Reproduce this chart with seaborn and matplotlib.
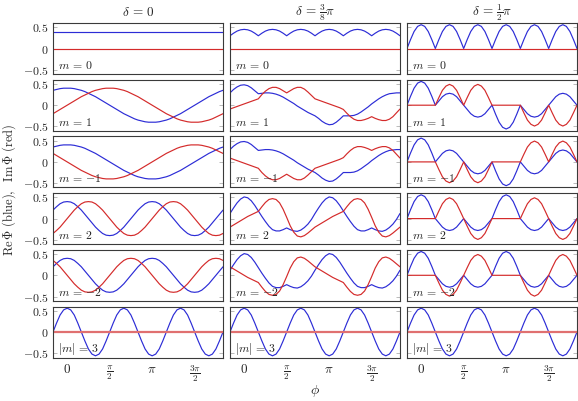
import numpy as np
import matplotlib
matplotlib.use("Agg")
import matplotlib.pyplot as plt
import seaborn as sns

sns.set_style("white")
plt.rcParams['font.family'] = ['DejaVu Serif']
plt.rcParams['mathtext.fontset'] = 'cm'

# ---------------- data ----------------
phi_deg = [-30, -22.5, -15, -7.5, 0, 7.5, 15, 22.5, 30, 37.5, 45, 52.5, 60, 67.5, 75, 82.5,
           90, 97.5, 105, 112.5, 120, 127.5, 135, 142.5, 150, 157.5, 165, 172.5, 180, 187.5,
           195, 202.5, 210, 217.5, 225, 232.5, 240, 247.5, 255, 262.5, 270, 277.5, 285, 292.5,
           300, 307.5, 315, 322.5, 330]
phi_edges = [-30, 330]

col_titles = [r"$\delta\,=\,0$", r"$\delta\,=\,\frac{3}{8}\pi$", r"$\delta\,=\,\frac{1}{2}\pi$"]
row_labels = [r"$m\,=\,0$", r"$m\,=\,1$", r"$m\,=\,{-1}$", r"$m\,=\,2$", r"$m\,=\,{-2}$", r"$|m|\,=\,3$"]
y_ticks = [-0.5, 0, 0.5]
y_tick_labels = [r"$-0.5$", r"$0$", r"$0.5$"]
x_ticks_deg = [0, 90, 180, 270]
x_tick_labels = [r"$0$", r"$\frac{\pi}{2}$", r"$\pi$", r"$\frac{3\pi}{2}$"]

# delta = 0
d0_m0_re = [0.40, 0.40]
zero_line = [0.0, 0.0]
d0_m1_re = [0.35, 0.37, 0.39, 0.40, 0.40, 0.40, 0.39, 0.37, 0.35, 0.32, 0.28, 0.24, 0.20, 0.15, 0.10, 0.05,
            0.00, -0.05, -0.10, -0.15, -0.20, -0.24, -0.28, -0.32, -0.35, -0.37, -0.39, -0.40, -0.40, -0.40,
            -0.39, -0.37, -0.35, -0.32, -0.28, -0.24, -0.20, -0.15, -0.10, -0.05, 0.00, 0.05, 0.10, 0.15,
            0.20, 0.24, 0.28, 0.32, 0.35]
d0_m1_im = [-0.20, -0.15, -0.10, -0.05, 0.00, 0.05, 0.10, 0.15, 0.20, 0.24, 0.28, 0.32, 0.35, 0.37, 0.39, 0.40,
            0.40, 0.40, 0.39, 0.37, 0.35, 0.32, 0.28, 0.24, 0.20, 0.15, 0.10, 0.05, 0.00, -0.05, -0.10, -0.15,
            -0.20, -0.24, -0.28, -0.32, -0.35, -0.37, -0.39, -0.40, -0.40, -0.40, -0.39, -0.37, -0.35, -0.32,
            -0.28, -0.24, -0.20]
d0_mm1_im = [0.20, 0.15, 0.10, 0.05, 0.00, -0.05, -0.10, -0.15, -0.20, -0.24, -0.28, -0.32, -0.35, -0.37, -0.39,
             -0.40, -0.40, -0.40, -0.39, -0.37, -0.35, -0.32, -0.28, -0.24, -0.20, -0.15, -0.10, -0.05, 0.00, 0.05,
             0.10, 0.15, 0.20, 0.24, 0.28, 0.32, 0.35, 0.37, 0.39, 0.40, 0.40, 0.40, 0.39, 0.37, 0.35, 0.32, 0.28,
             0.24, 0.20]
d0_m2_re = [0.20, 0.28, 0.35, 0.39, 0.40, 0.39, 0.35, 0.28, 0.20, 0.10, 0.00, -0.10, -0.20, -0.28, -0.35, -0.39,
            -0.40, -0.39, -0.35, -0.28, -0.20, -0.10, 0.00, 0.10, 0.20, 0.28, 0.35, 0.39, 0.40, 0.39, 0.35, 0.28,
            0.20, 0.10, 0.00, -0.10, -0.20, -0.28, -0.35, -0.39, -0.40, -0.39, -0.35, -0.28, -0.20, -0.10, 0.00,
            0.10, 0.20]
d0_m2_im = [-0.35, -0.28, -0.20, -0.10, 0.00, 0.10, 0.20, 0.28, 0.35, 0.39, 0.40, 0.39, 0.35, 0.28, 0.20, 0.10,
            0.00, -0.10, -0.20, -0.28, -0.35, -0.39, -0.40, -0.39, -0.35, -0.28, -0.20, -0.10, 0.00, 0.10, 0.20,
            0.28, 0.35, 0.39, 0.40, 0.39, 0.35, 0.28, 0.20, 0.10, 0.00, -0.10, -0.20, -0.28, -0.35, -0.39, -0.40,
            -0.39, -0.35]
d0_mm2_im = [0.35, 0.28, 0.20, 0.10, 0.00, -0.10, -0.20, -0.28, -0.35, -0.39, -0.40, -0.39, -0.35, -0.28, -0.20,
             -0.10, 0.00, 0.10, 0.20, 0.28, 0.35, 0.39, 0.40, 0.39, 0.35, 0.28, 0.20, 0.10, 0.00, -0.10, -0.20,
             -0.28, -0.35, -0.39, -0.40, -0.39, -0.35, -0.28, -0.20, -0.10, 0.00, 0.10, 0.20, 0.28, 0.35, 0.39,
             0.40, 0.39, 0.35]
m3_re = [0.00, 0.21, 0.40, 0.52, 0.56, 0.52, 0.40, 0.21, 0.00, -0.21, -0.40, -0.52, -0.56, -0.52, -0.40, -0.21,
         0.00, 0.21, 0.40, 0.52, 0.56, 0.52, 0.40, 0.21, 0.00, -0.21, -0.40, -0.52, -0.56, -0.52, -0.40, -0.21,
         0.00, 0.21, 0.40, 0.52, 0.56, 0.52, 0.40, 0.21, 0.00, -0.21, -0.40, -0.52, -0.56, -0.52, -0.40, -0.21,
         0.00]

# delta = 3/8 pi
d38_m0_re = [0.30, 0.36, 0.41, 0.44, 0.45, 0.44, 0.41, 0.36, 0.30, 0.36, 0.41, 0.44, 0.45, 0.44, 0.41, 0.36,
             0.30, 0.36, 0.41, 0.44, 0.45, 0.44, 0.41, 0.36, 0.30, 0.36, 0.41, 0.44, 0.45, 0.44, 0.41, 0.36,
             0.30, 0.36, 0.41, 0.44, 0.45, 0.44, 0.41, 0.36, 0.30, 0.36, 0.41, 0.44, 0.45, 0.44, 0.41, 0.36,
             0.30]
d38_m1_re = [0.29, 0.37, 0.43, 0.47, 0.48, 0.46, 0.41, 0.34, 0.27, 0.28, 0.29, 0.29, 0.28, 0.26, 0.23, 0.19,
             0.14, 0.09, 0.04, -0.02, -0.07, -0.12, -0.17, -0.21, -0.25, -0.31, -0.38, -0.43, -0.46, -0.45, -0.40,
             -0.33, -0.25, -0.25, -0.25, -0.24, -0.21, -0.16, -0.10, -0.04, 0.03, 0.09, 0.15, 0.20, 0.24, 0.27,
             0.28, 0.29, 0.29]
d38_m1_im = [-0.09, -0.06, -0.03, 0.00, 0.03, 0.06, 0.09, 0.12, 0.15, 0.25, 0.33, 0.39, 0.42, 0.42, 0.39, 0.34,
             0.29, 0.34, 0.39, 0.42, 0.42, 0.38, 0.31, 0.23, 0.15, 0.12, 0.09, 0.06, 0.03, 0.00, -0.03, -0.06,
             -0.10, -0.19, -0.27, -0.33, -0.36, -0.36, -0.34, -0.31, -0.27, -0.31, -0.34, -0.36, -0.36, -0.33,
             -0.27, -0.18, -0.09]
d38_mm1_re = [0.29, 0.37, 0.43, 0.47, 0.48, 0.46, 0.41, 0.34, 0.27, 0.28, 0.29, 0.29, 0.28, 0.26, 0.23, 0.19,
              0.14, 0.09, 0.04, -0.02, -0.07, -0.12, -0.17, -0.21, -0.25, -0.31, -0.38, -0.43, -0.46, -0.45, -0.40,
              -0.33, -0.25, -0.25, -0.25, -0.24, -0.21, -0.16, -0.10, -0.04, 0.03, 0.09, 0.15, 0.20, 0.24, 0.27,
              0.28, 0.29, 0.29]
d38_mm1_im = [0.09, 0.06, 0.03, 0.00, -0.03, -0.06, -0.09, -0.12, -0.15, -0.25, -0.33, -0.39, -0.42, -0.42, -0.39,
              -0.34, -0.29, -0.34, -0.39, -0.42, -0.42, -0.38, -0.31, -0.23, -0.15, -0.12, -0.09, -0.06, -0.03,
              0.00, 0.03, 0.06, 0.10, 0.19, 0.27, 0.33, 0.36, 0.36, 0.34, 0.31, 0.27, 0.31, 0.34, 0.36, 0.36, 0.33,
              0.27, 0.18, 0.09]
d38_m2_re = [0.12, 0.25, 0.37, 0.46, 0.51, 0.49, 0.42, 0.31, 0.18, 0.05, -0.07, -0.18, -0.26, -0.29, -0.29, -0.26,
             -0.22, -0.26, -0.29, -0.30, -0.27, -0.21, -0.13, -0.02, 0.12, 0.25, 0.37, 0.46, 0.51, 0.49, 0.42,
             0.31, 0.18, 0.05, -0.07, -0.18, -0.26, -0.29, -0.29, -0.26, -0.22, -0.26, -0.29, -0.30, -0.27, -0.21,
             -0.13, -0.02, 0.12]
d38_m2_im = [-0.20, -0.15, -0.10, -0.05, 0.00, 0.05, 0.09, 0.13, 0.17, 0.28, 0.38, 0.45, 0.47, 0.45, 0.37, 0.22,
             0.03, -0.17, -0.32, -0.41, -0.43, -0.40, -0.34, -0.27, -0.20, -0.15, -0.10, -0.05, 0.00, 0.05, 0.09,
             0.13, 0.17, 0.28, 0.38, 0.45, 0.47, 0.45, 0.37, 0.22, 0.03, -0.17, -0.32, -0.41, -0.43, -0.40, -0.34,
             -0.27, -0.20]
d38_mm2_re = [0.12, 0.25, 0.37, 0.46, 0.51, 0.49, 0.42, 0.31, 0.18, 0.05, -0.07, -0.18, -0.26, -0.29, -0.29, -0.26,
              -0.22, -0.26, -0.29, -0.30, -0.27, -0.21, -0.13, -0.02, 0.12, 0.25, 0.37, 0.46, 0.51, 0.49, 0.42,
              0.31, 0.18, 0.05, -0.07, -0.18, -0.26, -0.29, -0.29, -0.26, -0.22, -0.26, -0.29, -0.30, -0.27, -0.21,
              -0.13, -0.02, 0.12]
d38_mm2_im = [0.20, 0.15, 0.10, 0.05, 0.00, -0.05, -0.09, -0.13, -0.17, -0.28, -0.38, -0.45, -0.47, -0.45, -0.37,
              -0.22, -0.03, 0.17, 0.32, 0.41, 0.43, 0.40, 0.34, 0.27, 0.20, 0.15, 0.10, 0.05, 0.00, -0.05, -0.09,
              -0.13, -0.17, -0.28, -0.38, -0.45, -0.47, -0.45, -0.37, -0.22, -0.03, 0.17, 0.32, 0.41, 0.43, 0.40,
              0.34, 0.27, 0.20]

# delta = 1/2 pi
d12_m0_re = [0.00, 0.21, 0.40, 0.52, 0.56, 0.52, 0.40, 0.21, 0.00, 0.21, 0.40, 0.52, 0.56, 0.52, 0.40, 0.21,
             0.00, 0.21, 0.40, 0.52, 0.56, 0.52, 0.40, 0.21, 0.00, 0.21, 0.40, 0.52, 0.56, 0.52, 0.40, 0.21,
             0.00, 0.21, 0.40, 0.52, 0.56, 0.52, 0.40, 0.21, 0.00, 0.21, 0.40, 0.52, 0.56, 0.52, 0.40, 0.21,
             0.00]
d12_m1_re = [0.00, 0.21, 0.40, 0.52, 0.56, 0.52, 0.40, 0.21, 0.00, 0.10, 0.20, 0.26, 0.28, 0.26, 0.20, 0.10,
             0.00, -0.10, -0.20, -0.26, -0.28, -0.26, -0.20, -0.10, 0.00, -0.21, -0.40, -0.52, -0.56, -0.52, -0.40,
             -0.21, 0.00, -0.10, -0.20, -0.26, -0.28, -0.26, -0.20, -0.10, 0.00, 0.10, 0.20, 0.26, 0.28, 0.26,
             0.20, 0.10, 0.00]
d12_m1_im = [0.00, 0.00, 0.00, 0.00, 0.00, 0.00, 0.00, 0.00, 0.00, 0.18, 0.35, 0.45, 0.49, 0.45, 0.35, 0.18,
             0.00, 0.18, 0.35, 0.45, 0.49, 0.45, 0.35, 0.18, 0.00, 0.00, 0.00, 0.00, 0.00, 0.00, 0.00, 0.00,
             0.00, -0.18, -0.35, -0.45, -0.49, -0.45, -0.35, -0.18, 0.00, -0.18, -0.35, -0.45, -0.49, -0.45,
             -0.35, -0.18, 0.00]
d12_mm1_im = [0.00, 0.00, 0.00, 0.00, 0.00, 0.00, 0.00, 0.00, 0.00, -0.18, -0.35, -0.45, -0.49, -0.45, -0.35,
              -0.18, 0.00, -0.18, -0.35, -0.45, -0.49, -0.45, -0.35, -0.18, 0.00, 0.00, 0.00, 0.00, 0.00, 0.00,
              0.00, 0.00, 0.00, 0.18, 0.35, 0.45, 0.49, 0.45, 0.35, 0.18, 0.00, 0.18, 0.35, 0.45, 0.49, 0.45,
              0.35, 0.18, 0.00]
d12_m2_re = [0.00, 0.21, 0.40, 0.52, 0.56, 0.52, 0.40, 0.21, 0.00, -0.10, -0.20, -0.26, -0.28, -0.26, -0.20, -0.10,
             0.00, -0.10, -0.20, -0.26, -0.28, -0.26, -0.20, -0.10, 0.00, 0.21, 0.40, 0.52, 0.56, 0.52, 0.40,
             0.21, 0.00, -0.10, -0.20, -0.26, -0.28, -0.26, -0.20, -0.10, 0.00, -0.10, -0.20, -0.26, -0.28, -0.26,
             -0.20, -0.10, 0.00]
d12_m2_im = [0.00, 0.00, 0.00, 0.00, 0.00, 0.00, 0.00, 0.00, 0.00, 0.18, 0.35, 0.45, 0.49, 0.45, 0.35, 0.18,
             0.00, -0.18, -0.35, -0.45, -0.49, -0.45, -0.35, -0.18, 0.00, 0.00, 0.00, 0.00, 0.00, 0.00, 0.00, 0.00,
             0.00, 0.18, 0.35, 0.45, 0.49, 0.45, 0.35, 0.18, 0.00, -0.18, -0.35, -0.45, -0.49, -0.45, -0.35,
             -0.18, 0.00]
d12_mm2_im = [0.00, 0.00, 0.00, 0.00, 0.00, 0.00, 0.00, 0.00, 0.00, -0.18, -0.35, -0.45, -0.49, -0.45, -0.35,
              -0.18, 0.00, 0.18, 0.35, 0.45, 0.49, 0.45, 0.35, 0.18, 0.00, 0.00, 0.00, 0.00, 0.00, 0.00, 0.00,
              0.00, 0.00, -0.18, -0.35, -0.45, -0.49, -0.45, -0.35, -0.18, 0.00, 0.18, 0.35, 0.45, 0.49, 0.45,
              0.35, 0.18, 0.00]

P, E = phi_deg, phi_edges
panels = [
    [(E, d0_m0_re, E, zero_line), (P, d38_m0_re, E, zero_line), (P, d12_m0_re, E, zero_line)],
    [(P, d0_m1_re, P, d0_m1_im), (P, d38_m1_re, P, d38_m1_im), (P, d12_m1_re, P, d12_m1_im)],
    [(P, d0_m1_re, P, d0_mm1_im), (P, d38_mm1_re, P, d38_mm1_im), (P, d12_m1_re, P, d12_mm1_im)],
    [(P, d0_m2_re, P, d0_m2_im), (P, d38_m2_re, P, d38_m2_im), (P, d12_m2_re, P, d12_m2_im)],
    [(P, d0_m2_re, P, d0_mm2_im), (P, d38_mm2_re, P, d38_mm2_im), (P, d12_m2_re, P, d12_mm2_im)],
    [(P, m3_re, E, zero_line), (P, m3_re, E, zero_line), (P, m3_re, E, zero_line)],
]

# ---------------- layout ----------------
W, H = 578, 401
col_left = [53, 230, 407]
ax_w = 170
row_top = [23, 79.7, 136.4, 193.1, 249.8, 306.5]
ax_h = 51

BLUE = "#2c2cd6"
RED = "#d42a2a"
FRAME = "#3a3a3a"

fig = plt.figure(figsize=(W / 100, H / 100), dpi=100)

for r in range(6):
    for c in range(3):
        ax = fig.add_axes([col_left[c] / W, 1 - (row_top[r] + ax_h) / H, ax_w / W, ax_h / H])
        xr, yr, xi, yi = panels[r][c]
        sns.lineplot(x=np.deg2rad(xr), y=yr, ax=ax, color=BLUE, lw=0.85,
                     estimator=None, sort=False, legend=False)
        if r == 5:
            sns.lineplot(x=np.deg2rad(xi), y=yi, ax=ax, color="#e07070", lw=1.6,
                         estimator=None, sort=False, legend=False)
        else:
            sns.lineplot(x=np.deg2rad(xi), y=yi, ax=ax, color=RED, lw=0.85,
                         estimator=None, sort=False, legend=False)
        ax.set_xlim(-np.pi / 6, 11 * np.pi / 6)
        ax.set_ylim(-0.6, 0.6)
        ax.set_xlabel("")
        ax.set_ylabel("")
        ax.set_yticks(y_ticks)
        ax.set_xticks(np.deg2rad(x_ticks_deg))
        if c == 0:
            ax.set_yticklabels(y_tick_labels, fontsize=8.5)
        else:
            ax.set_yticklabels([])
        if r == 5:
            ax.set_xticklabels(x_tick_labels, fontsize=9.5)
        else:
            ax.set_xticklabels([])
        ax.tick_params(axis='y', direction='in', length=3, width=0.6, color="#b0b0b0",
                       left=True, right=True, pad=3)
        ax.tick_params(axis='x', length=0, pad=4)
        for s in ax.spines.values():
            s.set_color(FRAME)
            s.set_linewidth(0.8)
        ax.text(0.03, 0.17, row_labels[r], transform=ax.transAxes, ha='left', va='center',
                fontsize=8.5, color="#222222")

for c in range(3):
    fig.text((col_left[c] + ax_w / 2) / W, 1 - 16 / H, col_titles[c], ha='center', va='baseline',
             fontsize=9.5)

fig.text(9 / W, 1 - 190 / H, r"$\mathrm{Re}\,\Phi\ \mathrm{(blue)},\ \ \mathrm{Im}\,\Phi\ \mathrm{(red)}$",
         rotation=90, ha='center', va='center', fontsize=9)
fig.text((col_left[1] + ax_w / 2) / W, 1 - 391 / H, r"$\phi$", ha='center', va='center', fontsize=10)

fig.savefig("out.png", dpi=100)
